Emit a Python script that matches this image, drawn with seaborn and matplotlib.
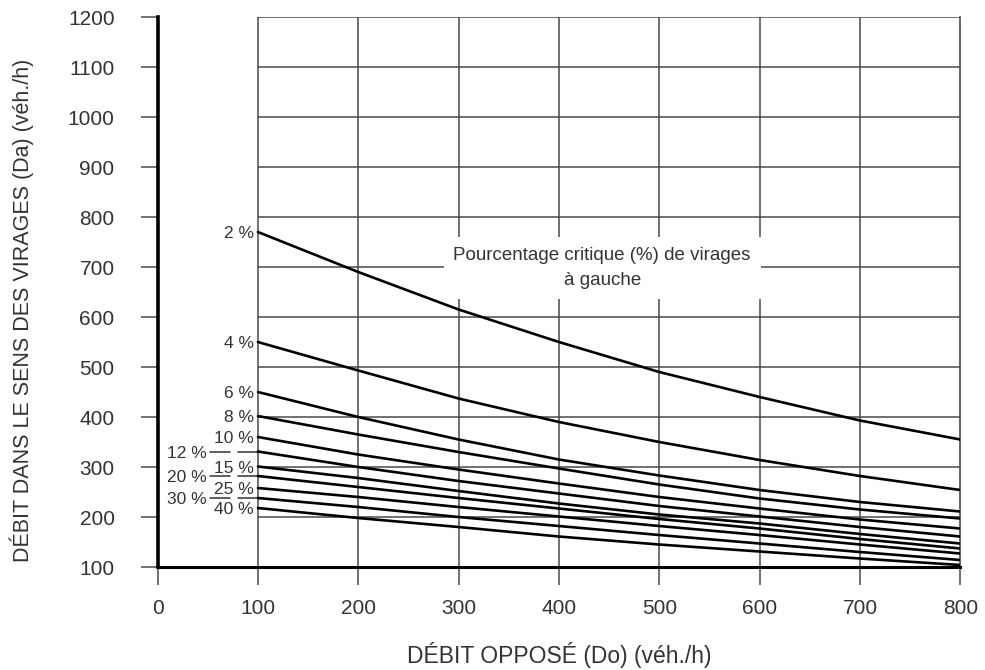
import matplotlib
matplotlib.use("Agg")
import matplotlib.pyplot as plt
import seaborn as sns
import pandas as pd

# ---- data ----
debit_oppose = [100, 200, 300, 400, 500, 600, 700, 800]
pourcentages = ["2 %", "4 %", "6 %", "8 %", "10 %", "12 %", "15 %", "20 %", "25 %", "30 %", "40 %"]
c2 = [770, 690, 615, 550, 490, 440, 393, 355]
c4 = [550, 493, 437, 390, 350, 314, 282, 254]
c6 = [450, 400, 355, 315, 283, 254, 230, 211]
c8 = [402, 365, 330, 297, 265, 237, 215, 197]
c10 = [360, 325, 295, 267, 240, 217, 195, 177]
c12 = [331, 300, 272, 247, 222, 201, 180, 161]
c15 = [301, 278, 252, 227, 205, 187, 166, 147]
c20 = [282, 260, 238, 217, 196, 177, 156, 137]
c25 = [258, 240, 220, 201, 182, 164, 145, 127]
c30 = [238, 220, 200, 182, 164, 147, 130, 114]
c40 = [218, 198, 180, 161, 145, 131, 117, 104]
series = [c2, c4, c6, c8, c10, c12, c15, c20, c25, c30, c40]
x_ticks = [0, 100, 200, 300, 400, 500, 600, 700, 800]
y_ticks = [100, 200, 300, 400, 500, 600, 700, 800, 900, 1000, 1100, 1200]
# labels placed on the far-left with a leader line
leader_labels = ["12 %", "20 %", "30 %"]

rows = []
for name, vals in zip(pourcentages, series):
    for x, v in zip(debit_oppose, vals):
        rows.append({"Do": x, "Da": v, "pct": name})
df = pd.DataFrame(rows)

sns.set_theme(style="white")
plt.rcParams["font.family"] = ["Liberation Sans", "DejaVu Sans"]
text_col = "#333333"
grid_col = "#4a4a4a"

fig = plt.figure(figsize=(9.85, 6.70), dpi=100)
ax = fig.add_axes([0.160, 0.1537, 0.815, 0.8209])

# grid (only from Do=100 onwards)
for y in y_ticks[1:]:
    ax.plot([100, 800], [y, y], color=grid_col, lw=1.1, zorder=1, solid_capstyle="butt")
for x in x_ticks[1:-1]:
    ax.plot([x, x], [100, 1200], color=grid_col, lw=1.1, zorder=1, solid_capstyle="butt")

sns.lineplot(data=df, x="Do", y="Da", hue="pct", hue_order=pourcentages,
             palette=["black"] * len(pourcentages), linewidth=1.9,
             legend=False, ax=ax, zorder=3)

ax.set_xlim(0, 800)
ax.set_ylim(100, 1200)
ax.set_xticks(x_ticks)
ax.set_yticks(y_ticks)
ax.tick_params(axis="x", direction="out", length=13, width=1.1, color=grid_col,
               pad=10, labelsize=15, labelcolor=text_col, bottom=True)
ax.tick_params(axis="y", direction="out", length=12, width=1.1, color=grid_col,
               pad=19, labelsize=15, labelcolor=text_col, left=True)

ax.spines["top"].set_visible(False)
ax.spines["left"].set_color("black")
ax.spines["left"].set_linewidth(2.6)
ax.spines["bottom"].set_color("black")
ax.spines["bottom"].set_linewidth(2.2)
ax.spines["right"].set_color(grid_col)
ax.spines["right"].set_linewidth(1.2)

ax.set_xlabel("DÉBIT OPPOSÉ (Do) (véh./h)", fontsize=16.5, color=text_col, va="center")
ax.set_ylabel("DÉBIT DANS LE SENS DES VIRAGES (Da) (véh./h)", fontsize=15.5,
              color=text_col, va="center")
ax.xaxis.set_label_coords(0.5, (567 - 655) / 550)
ax.yaxis.set_label_coords((22 - 158) / 802, (567 - 310) / 550)

# curve labels
for name, vals in zip(pourcentages, series):
    if name in leader_labels:
        ax.text(49, vals[0] - 3, name, ha="right", va="center", fontsize=12.5, color=text_col)
        ax.plot([52, 72], [vals[0], vals[0]], color=text_col, lw=1.1, zorder=2)
        ax.plot([80, 100], [vals[0], vals[0]], color=text_col, lw=1.1, zorder=2)
    else:
        ax.text(96, vals[0] - 3, name, ha="right", va="center", fontsize=12.5, color=text_col)

ax.text(443, 698, "Pourcentage critique (%) de virages\nà gauche", ha="center", va="center",
        fontsize=13.5, color=text_col, linespacing=1.6, zorder=4,
        bbox=dict(facecolor="white", edgecolor="none", pad=7))

fig.savefig("out.png", dpi=100)
